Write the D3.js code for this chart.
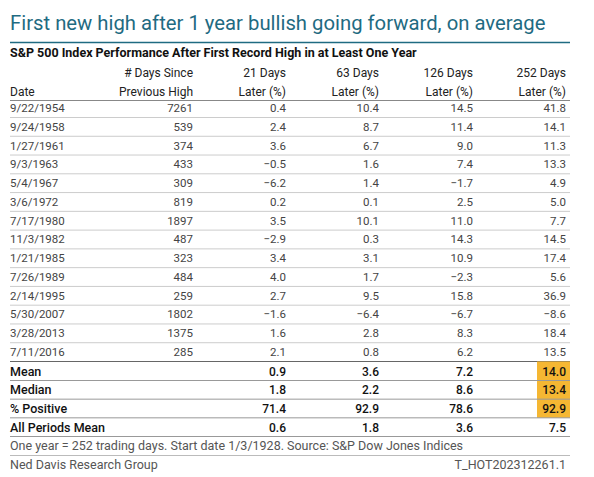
<!DOCTYPE html>
<html><head><meta charset="utf-8">
<script src="https://cdn.jsdelivr.net/npm/d3@7"></script>
<style>body{margin:0;background:#fff}text{font-family:Roboto,"Noto Sans",sans-serif}</style>
</head><body><svg id="chart" width="594" height="477"></svg>
<script>
const headers1 = ["", "# Days Since", "21 Days", "63 Days", "126 Days", "252 Days"];
const headers2 = ["Date", "Previous High", "Later (%)", "Later (%)", "Later (%)", "Later (%)"];
const dates = ["9/22/1954","9/24/1958","1/27/1961","9/3/1963","5/4/1967","3/6/1972","7/17/1980","11/3/1982","1/21/1985","7/26/1989","2/14/1995","5/30/2007","3/28/2013","7/11/2016"];
const daysSince = [7261,539,374,433,309,819,1897,487,323,484,259,1802,1375,285];
const d21 = [0.4,2.4,3.6,-0.5,-6.2,0.2,3.5,-2.9,3.4,4.0,2.7,-1.6,1.6,2.1];
const d63 = [10.4,8.7,6.7,1.6,1.4,0.1,10.1,0.3,3.1,1.7,9.5,-6.4,2.8,0.8];
const d126 = [14.5,11.4,9.0,7.4,-1.7,2.5,11.0,14.3,10.9,-2.3,15.8,-6.7,8.3,6.2];
const d252 = [41.8,14.1,11.3,13.3,4.9,5.0,7.7,14.5,17.4,5.6,36.9,-8.6,18.4,13.5];
const summaryLabels = ["Mean","Median","% Positive","All Periods Mean"];
const summary = [[0.9,3.6,7.2,14.0],[1.8,2.2,8.6,13.4],[71.4,92.9,78.6,92.9],[0.6,1.8,3.6,7.5]];

const svg = d3.select("#chart");
const teal = "#1f6b82";
const colRight = [null,193,286,379,473,566];
const x0 = 10, x1 = 570;
const rowY = d3.scalePoint().domain(d3.range(14)).range([108,352]);
const sumY = d3.scalePoint().domain(d3.range(4)).range([371,427]);

svg.append("text").attr("x",x0).attr("y",30).attr("fill",teal).attr("font-size",20.3)
  .text("First new high after 1 year bullish going forward, on average");
svg.append("line").attr("x1",x0).attr("x2",x1).attr("y1",42.5).attr("y2",42.5).attr("stroke",teal).attr("stroke-width",1.5);
svg.append("text").attr("x",x0).attr("y",57).attr("font-size",12.5).attr("font-weight","bold").attr("fill","#111")
  .text("S&P 500 Index Performance After First Record High in at Least One Year");

[headers1, headers2].forEach((h,r)=>{
  h.forEach((t,i)=>{
    svg.append("text").attr("x", i===0?x0:colRight[i]).attr("y", r?96:77)
      .attr("text-anchor", i===0?"start":"end").attr("font-size",12).attr("fill","#222").text(t);
  });
});
svg.append("line").attr("x1",x0).attr("x2",x1).attr("y1",100.5).attr("y2",100.5).attr("stroke","#888");

const fmt = d3.format(".1f");
dates.forEach((d,i)=>{
  const y = rowY(i)+4;
  const vals = [daysSince[i], fmt(d21[i]), fmt(d63[i]), fmt(d126[i]), fmt(d252[i])];
  svg.append("text").attr("x",x0).attr("y",y).attr("font-size",11.5).attr("fill","#444").text(d);
  vals.forEach((v,j)=>svg.append("text").attr("x",colRight[j+1]).attr("y",y).attr("text-anchor","end")
    .attr("font-size",11.5).attr("fill","#444").text(v));
  if(i<13) svg.append("line").attr("x1",x0).attr("x2",x1).attr("y1",rowY(i)+9.5).attr("y2",rowY(i)+9.5).attr("stroke","#ccc");
});
svg.append("line").attr("x1",x0).attr("x2",x1).attr("y1",361.5).attr("y2",361.5).attr("stroke","#666").attr("stroke-width",1.2);

svg.append("rect").attr("x",537).attr("y",sumY(0)-9.5).attr("width",33).attr("height",sumY(2)-sumY(0)+19).attr("fill","#f5b733");

summaryLabels.forEach((l,i)=>{
  const y = sumY(i)+4.5;
  svg.append("text").attr("x",x0).attr("y",y).attr("font-size",12.5).attr("font-weight",500).attr("fill","#111").text(l);
  summary[i].forEach((v,j)=>svg.append("text").attr("x",colRight[j+2]).attr("y",y).attr("text-anchor","end")
    .attr("font-size",12).attr("font-weight",500).attr("fill","#111").text(fmt(v)));
  svg.append("line").attr("x1",x0).attr("x2",x1).attr("y1",sumY(i)+9.5).attr("y2",sumY(i)+9.5).attr("stroke","#999");
});

svg.append("text").attr("x",x0).attr("y",450).attr("font-size",12.5).attr("fill","#555")
  .text("One year = 252 trading days. Start date 1/3/1928. Source: S&P Dow Jones Indices");
svg.append("line").attr("x1",x0).attr("x2",x1).attr("y1",455.5).attr("y2",455.5).attr("stroke","#bbb");
svg.append("text").attr("x",x0).attr("y",469).attr("font-size",12.5).attr("fill","#555").text("Ned Davis Research Group");
svg.append("text").attr("x",566).attr("y",469).attr("text-anchor","end").attr("font-size",12.5).attr("fill","#555").text("T_HOT202312261.1");
</script></body></html>
